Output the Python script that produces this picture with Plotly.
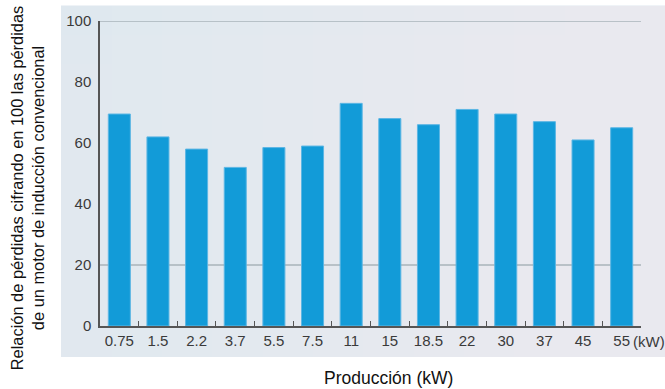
import plotly.graph_objects as go

# Motor output categories (kW) and relative losses (conventional induction motor = 100)
potencias = ["0.75", "1.5", "2.2", "3.7", "5.5", "7.5", "11", "15", "18.5", "22", "30", "37", "45", "55"]
relacion_perdidas = [69.5, 62, 58, 52, 58.5, 59, 73, 68, 66, 71, 69.5, 67, 61, 65]
lineas_referencia = [20, 100]
marcas_y = [0, 20, 40, 60, 80, 100]

W, H = 665, 389
L, R, T, B = 100, 24, 20.5, 63

fig = go.Figure()
fig.add_trace(go.Bar(
    x=potencias,
    y=relacion_perdidas,
    marker=dict(color="#129bd8", line=dict(color="#5cb6e4", width=1)),
    width=0.57,
    hoverinfo="x+y",
))

pw = W - L - R
ph = H - T - B

def px_x(p):
    return (p - L) / pw

def px_y(p):
    return (H - B - p) / ph

# light blue-grey panel behind the chart, brightening toward the lower right
PX0, PX1, PY0, PY1 = 61, 665, 5, 357
shapes = [
    dict(type="rect", xref="paper", yref="paper",
         x0=px_x(PX0), x1=px_x(PX1), y0=px_y(PY1), y1=px_y(PY0),
         fillcolor="#dfe8ef", line=dict(width=0), layer="below"),
]
n = 12
for i in range(1, n):
    xs = PX0 + (PX1 - PX0) * i / n
    shapes.append(dict(type="rect", xref="paper", yref="paper",
                       x0=px_x(xs), x1=px_x(PX1), y0=px_y(PY1), y1=px_y(PY0),
                       fillcolor="white", opacity=0.045, line=dict(width=0), layer="below"))
    ys = PY0 + (PY1 - PY0) * i / n
    shapes.append(dict(type="rect", xref="paper", yref="paper",
                       x0=px_x(PX0), x1=px_x(PX1), y0=px_y(PY1), y1=px_y(ys),
                       fillcolor="white", opacity=0.03, line=dict(width=0), layer="below"))

for lv in lineas_referencia:
    shapes.append(dict(type="line", xref="paper", yref="y", x0=0, x1=1, y0=lv, y1=lv,
                       line=dict(color="#a9b3ba", width=1.5), layer="below"))

fig.update_layout(
    width=W, height=H,
    margin=dict(l=L, r=R, t=T, b=B),
    paper_bgcolor="white",
    plot_bgcolor="rgba(0,0,0,0)",
    font=dict(family="Liberation Sans, Arial, sans-serif", color="#3a3a3a"),
    showlegend=False,
    bargap=0.43,
    shapes=shapes,
    xaxis=dict(
        type="category",
        showgrid=False,
        showline=True, linecolor="#555555", linewidth=1.5,
        ticks="inside", tickson="boundaries", ticklen=5, tickcolor="#555555", tickwidth=1,
        tickfont=dict(size=15, color="#3a3a3a"),
        fixedrange=True,
    ),
    yaxis=dict(
        range=[0, 100],
        tickvals=marcas_y,
        showgrid=False, zeroline=False,
        showline=True, linecolor="#555555", linewidth=1.5,
        ticks="", ticklabelstandoff=4,
        tickfont=dict(size=15, color="#3a3a3a"),
        fixedrange=True,
    ),
    annotations=[
        dict(text="(kW)", xref="paper", yref="paper", x=px_x(631), y=px_y(342),
             xanchor="left", yanchor="middle", showarrow=False,
             font=dict(size=15, color="#3a3a3a")),
        dict(text="Producción (kW)", xref="paper", yref="paper", x=px_x(388), y=px_y(378),
             xanchor="center", yanchor="middle", showarrow=False,
             font=dict(size=17.5, color="#111111")),
        dict(text="Relación de pérdidas cifrando en 100 las pérdidas<br>de un motor de inducción convencional",
             xref="paper", yref="paper", x=px_x(27), y=px_y(188),
             xanchor="center", yanchor="middle", textangle=-90, showarrow=False,
             align="center", font=dict(size=16.4, color="#111111")),
    ],
)

fig.write_html("out.html")
